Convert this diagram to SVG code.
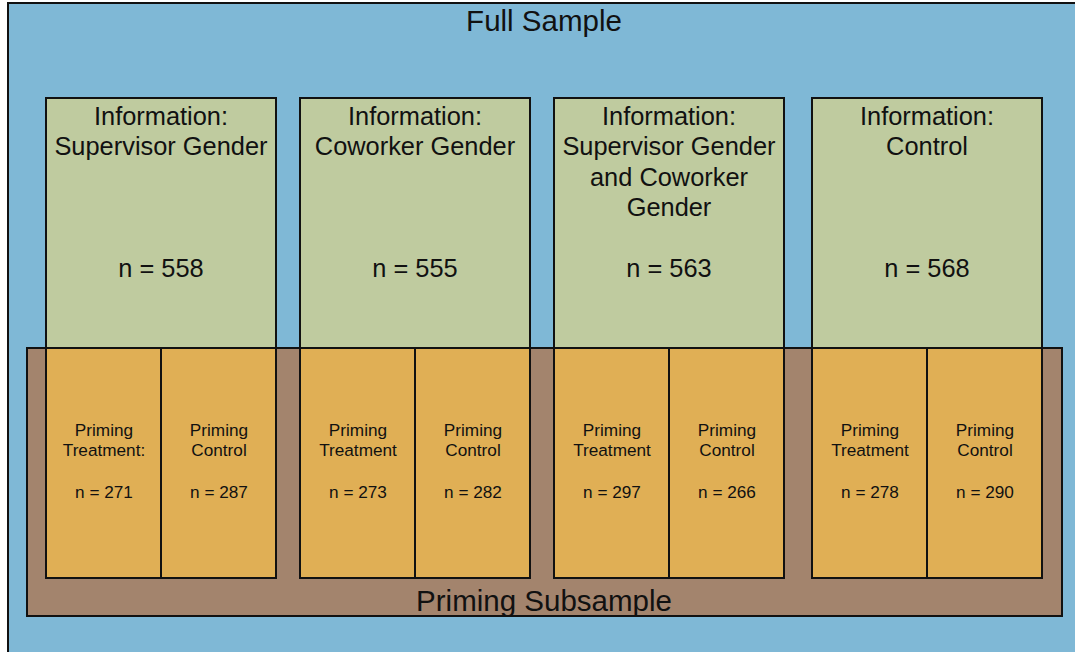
<svg xmlns="http://www.w3.org/2000/svg" width="1075" height="652" viewBox="0 0 1075 652">
<style>
.full{fill:#7FB8D6;stroke:#111;stroke-width:2}
.sub{fill:#A3846D;stroke:#111;stroke-width:2}
.info{fill:#BFCB9F;stroke:#111;stroke-width:2}
.prim{fill:#E0AF55;stroke:#111;stroke-width:2}
text{font-family:"Liberation Sans",Arial,sans-serif;fill:#111;text-anchor:middle}
.big{font-size:29.5px}
.mid{font-size:25.4px}
.sm{font-size:17.2px}
</style>
<g id="full-sample">
<rect class="full" x="8" y="3" width="1080" height="660"/>
<text class="big" x="544" y="31">Full Sample</text>
</g>
<g id="priming-subsample">
<rect class="sub" x="27" y="348" width="1035" height="268"/>
<text class="big" x="544" y="611">Priming Subsample</text>
</g>
<g id="info-supervisor">
<rect class="info" x="46" y="98" width="230" height="250"/>
<text class="mid" x="161" y="125">Information:</text>
<text class="mid" x="161" y="155">Supervisor Gender</text>
<text class="mid" x="161" y="277">n = 558</text>
</g>
<g id="info-coworker">
<rect class="info" x="300" y="98" width="230" height="250"/>
<text class="mid" x="415" y="125">Information:</text>
<text class="mid" x="415" y="155">Coworker Gender</text>
<text class="mid" x="415" y="277">n = 555</text>
</g>
<g id="info-both">
<rect class="info" x="554" y="98" width="230" height="250"/>
<text class="mid" x="669" y="125">Information:</text>
<text class="mid" x="669" y="155">Supervisor Gender</text>
<text class="mid" x="669" y="186">and Coworker</text>
<text class="mid" x="669" y="216">Gender</text>
<text class="mid" x="669" y="277">n = 563</text>
</g>
<g id="info-control">
<rect class="info" x="812" y="98" width="230" height="250"/>
<text class="mid" x="927" y="125">Information:</text>
<text class="mid" x="927" y="155">Control</text>
<text class="mid" x="927" y="277">n = 568</text>
</g>
<g id="p1t">
<rect class="prim" x="46" y="348" width="115" height="230"/>
<text class="sm" x="104" y="436">Priming</text>
<text class="sm" x="104" y="456">Treatment:</text>
<text class="sm" x="104" y="498">n = 271</text>
</g>
<g id="p1c">
<rect class="prim" x="161" y="348" width="115" height="230"/>
<text class="sm" x="219" y="436">Priming</text>
<text class="sm" x="219" y="456">Control</text>
<text class="sm" x="219" y="498">n = 287</text>
</g>
<g id="p2t">
<rect class="prim" x="300" y="348" width="115" height="230"/>
<text class="sm" x="358" y="436">Priming</text>
<text class="sm" x="358" y="456">Treatment</text>
<text class="sm" x="358" y="498">n = 273</text>
</g>
<g id="p2c">
<rect class="prim" x="415" y="348" width="115" height="230"/>
<text class="sm" x="473" y="436">Priming</text>
<text class="sm" x="473" y="456">Control</text>
<text class="sm" x="473" y="498">n = 282</text>
</g>
<g id="p3t">
<rect class="prim" x="554" y="348" width="115" height="230"/>
<text class="sm" x="612" y="436">Priming</text>
<text class="sm" x="612" y="456">Treatment</text>
<text class="sm" x="612" y="498">n = 297</text>
</g>
<g id="p3c">
<rect class="prim" x="669" y="348" width="115" height="230"/>
<text class="sm" x="727" y="436">Priming</text>
<text class="sm" x="727" y="456">Control</text>
<text class="sm" x="727" y="498">n = 266</text>
</g>
<g id="p4t">
<rect class="prim" x="812" y="348" width="115" height="230"/>
<text class="sm" x="870" y="436">Priming</text>
<text class="sm" x="870" y="456">Treatment</text>
<text class="sm" x="870" y="498">n = 278</text>
</g>
<g id="p4c">
<rect class="prim" x="927" y="348" width="115" height="230"/>
<text class="sm" x="985" y="436">Priming</text>
<text class="sm" x="985" y="456">Control</text>
<text class="sm" x="985" y="498">n = 290</text>
</g>
<g id="connectors"/>
</svg>
